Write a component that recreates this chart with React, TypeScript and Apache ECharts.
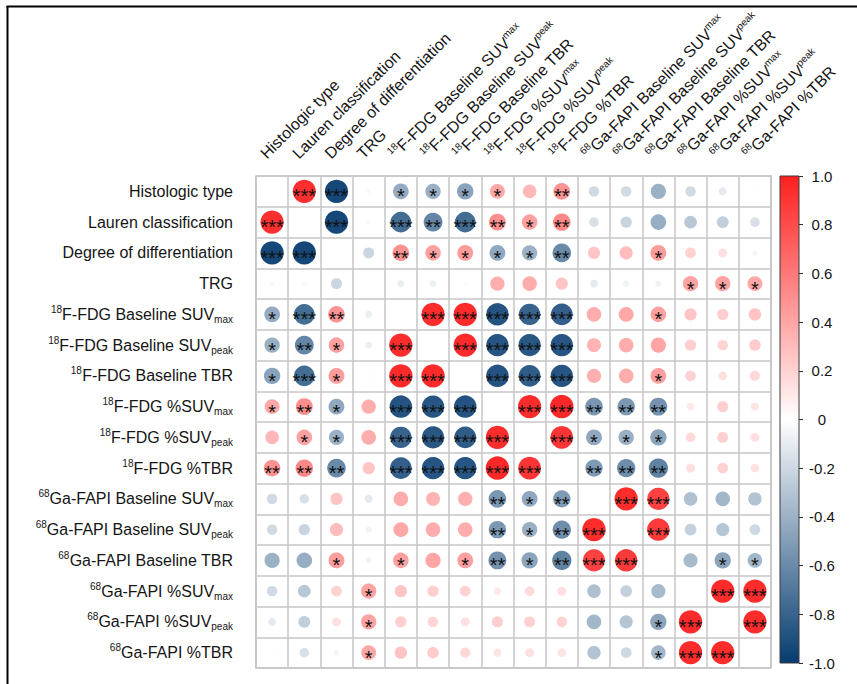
import React, { useEffect, useRef } from 'react';
import * as echarts from 'echarts';

const FONT = '"Liberation Sans", Arial, Helvetica, sans-serif';
const RED = '#FF1F1F';
const BLUE = '#063C70';
const INK = '#151515';

// Variable labels (rich markup: sup = isotope mass number, sub = SUV suffix)
const varLabels = [
  '{n|Histologic type}',
  '{n|Lauren classification}',
  '{n|Degree of differentiation}',
  '{n|TRG}',
  '{sup|18}{n|F-FDG Baseline SUV}{sub|max}',
  '{sup|18}{n|F-FDG Baseline SUV}{sub|peak}',
  '{sup|18}{n|F-FDG Baseline TBR}',
  '{sup|18}{n|F-FDG %SUV}{sub|max}',
  '{sup|18}{n|F-FDG %SUV}{sub|peak}',
  '{sup|18}{n|F-FDG %TBR}',
  '{sup|68}{n|Ga-FAPI Baseline SUV}{sub|max}',
  '{sup|68}{n|Ga-FAPI Baseline SUV}{sub|peak}',
  '{sup|68}{n|Ga-FAPI Baseline TBR}',
  '{sup|68}{n|Ga-FAPI %SUV}{sub|max}',
  '{sup|68}{n|Ga-FAPI %SUV}{sub|peak}',
  '{sup|68}{n|Ga-FAPI %TBR}',
];

// Lower triangle of the correlation matrix: row i holds r(i, 0..i-1)
const corrLower: number[][] = [
  [],
  [0.93],
  [-0.94, -0.94],
  [0.04, 0.04, -0.21],
  [-0.43, -0.75, 0.48, -0.085],
  [-0.41, -0.62, 0.42, -0.08, 0.94],
  [-0.47, -0.75, 0.44, 0.025, 0.95, 0.95],
  [0.39, 0.5, -0.44, 0.36, -0.88, -0.87, -0.88],
  [0.32, 0.42, -0.4, 0.37, -0.8, -0.86, -0.83, 0.94],
  [0.48, 0.53, -0.6, 0.26, -0.82, -0.87, -0.87, 0.96, 0.9],
  [-0.19, -0.16, 0.26, -0.11, 0.37, 0.34, 0.355, -0.54, -0.44, -0.52],
  [-0.19, -0.22, 0.3, -0.065, 0.39, 0.37, 0.37, -0.53, -0.41, -0.58, 0.94],
  [-0.4, -0.42, 0.44, -0.06, 0.42, 0.4, 0.43, -0.56, -0.46, -0.64, 0.85, 0.88],
  [-0.19, -0.28, 0.2, 0.41, 0.26, 0.22, 0.2, 0.1, 0.165, 0.145, -0.32, -0.24, -0.35],
  [-0.11, -0.25, 0.14, 0.41, 0.22, 0.19, 0.14, 0.215, 0.21, 0.2, -0.37, -0.3, -0.46, 0.95],
  [-0.02, -0.16, -0.05, 0.39, 0.27, 0.23, 0.18, 0.12, 0.14, 0.13, -0.31, -0.2, -0.37, 0.94, 0.94],
];

// Significance level (number of asterisks), same layout as corrLower
const starsLower: number[][] = [
  [],
  [3],
  [3, 3],
  [0, 0, 0],
  [1, 3, 2, 0],
  [1, 2, 1, 0, 3],
  [1, 3, 1, 0, 3, 3],
  [1, 2, 1, 0, 3, 3, 3],
  [0, 1, 1, 0, 3, 3, 3, 3],
  [2, 2, 2, 0, 3, 3, 3, 3, 3],
  [0, 0, 0, 0, 0, 0, 0, 2, 1, 2],
  [0, 0, 0, 0, 0, 0, 0, 2, 1, 2, 3],
  [0, 0, 1, 0, 1, 0, 1, 2, 1, 2, 3, 3],
  [0, 0, 0, 1, 0, 0, 0, 0, 0, 0, 0, 0, 0],
  [0, 0, 0, 1, 0, 0, 0, 0, 0, 0, 0, 0, 1, 3],
  [0, 0, 0, 1, 0, 0, 0, 0, 0, 0, 0, 0, 1, 3, 3],
];

const scaleTicks = { min: -1, max: 1, interval: 0.2 };

const GRID = { left: 256, top: 176, width: 515, height: 492 };

function lookup(tri: number[][], i: number, j: number) {
  return i > j ? tri[i][j] : tri[j][i];
}

export default function App() {
  const ref = useRef<HTMLDivElement>(null);

  useEffect(() => {
    if (!ref.current) return;
    const chart = echarts.init(ref.current, null, { renderer: 'svg' });
    const n = varLabels.length;
    const cellH = GRID.height / n;
    const sizeScale = 0.78 * cellH;

    const points: any[] = [];
    for (let i = 0; i < n; i++) {
      for (let j = 0; j < n; j++) {
        if (i === j) continue;
        points.push([j, i, lookup(corrLower, i, j), lookup(starsLower, i, j)]);
      }
    }

    const rowRich = {
      n: { fontSize: 16, lineHeight: 20, verticalAlign: 'middle', color: INK, fontFamily: FONT },
      sup: { fontSize: 10, lineHeight: 13, verticalAlign: 'top', color: INK, fontFamily: FONT },
      sub: { fontSize: 10, lineHeight: 12, verticalAlign: 'bottom', color: INK, fontFamily: FONT },
    };
    // zrender text styles for the rotated column headers
    const colRich = {
      n: { fontSize: 16, lineHeight: 20, verticalAlign: 'middle', fill: INK, fontFamily: FONT },
      sup: { fontSize: 10, lineHeight: 13, verticalAlign: 'top', fill: INK, fontFamily: FONT },
      sub: { fontSize: 10, lineHeight: 13, verticalAlign: 'top', fill: INK, fontFamily: FONT },
    };

    const gridLine = { show: true, interval: 0, lineStyle: { color: '#c6c6c6', width: 1.5 } };

    chart.setOption({
      animation: false,
      backgroundColor: '#ffffff',
      textStyle: { fontFamily: FONT },
      graphic: [
        { type: 'line', shape: { x1: 6.5, y1: 6.5, x2: 857, y2: 6.5 }, style: { stroke: '#000', lineWidth: 2 } },
        { type: 'line', shape: { x1: 7.5, y1: 6, x2: 7.5, y2: 684 }, style: { stroke: '#000', lineWidth: 2 } },
      ],
      grid: [
        { ...GRID, show: true, borderColor: '#c6c6c6', borderWidth: 1.5, backgroundColor: 'transparent' },
        { left: 780, top: 176, width: 19, height: 487 },
      ],
      xAxis: [
        {
          type: 'category',
          gridIndex: 0,
          position: 'top',
          data: varLabels,
          axisLine: { show: false },
          axisTick: { show: false },
          splitLine: gridLine,
          axisLabel: { show: false },
        },
        { type: 'category', gridIndex: 1, data: [''], show: false },
      ],
      yAxis: [
        {
          type: 'category',
          gridIndex: 0,
          inverse: true,
          data: varLabels,
          axisLine: { show: false },
          axisTick: { show: false },
          splitLine: gridLine,
          axisLabel: { interval: 0, margin: 23, rich: rowRich },
        },
        {
          type: 'value',
          gridIndex: 1,
          position: 'right',
          min: scaleTicks.min,
          max: scaleTicks.max,
          interval: scaleTicks.interval,
          axisLine: { show: false },
          splitLine: { show: false },
          axisTick: { show: true, inside: false, length: 4, lineStyle: { color: '#333', width: 1 } },
          axisLabel: {
            align: 'center',
            margin: 23,
            fontSize: 15,
            color: INK,
            fontFamily: FONT,
            formatter: (v: number) => (Math.abs(v) < 1e-9 ? '0' : v.toFixed(1)),
          },
        },
      ],
      visualMap: {
        show: false,
        type: 'continuous',
        min: scaleTicks.min,
        max: scaleTicks.max,
        dimension: 2,
        seriesIndex: 0,
        inRange: { color: [BLUE, '#ffffff', RED] },
      },
      series: [
        {
          type: 'scatter',
          xAxisIndex: 0,
          yAxisIndex: 0,
          data: points,
          symbol: 'circle',
          symbolSize: (v: number[]) => sizeScale * Math.sqrt(Math.abs(v[2])),
          itemStyle: { opacity: 1 },
          emphasis: { disabled: true },
          label: {
            show: true,
            position: 'inside',
            formatter: (p: any) => '*'.repeat(p.value[3]),
            fontSize: 20,
            color: '#111',
            fontFamily: FONT,
            offset: [0, 5],
          },
          z: 3,
        },
        {
          // colour scale bar
          type: 'custom',
          xAxisIndex: 1,
          yAxisIndex: 1,
          silent: true,
          data: [[0, scaleTicks.min, scaleTicks.max]],
          renderItem: (_params: any, api: any) => {
            const top = api.coord([api.value(0), api.value(2)]);
            const bottom = api.coord([api.value(0), api.value(1)]);
            const w = api.size([1, 0])[0];
            return {
              type: 'rect',
              shape: { x: top[0] - w / 2, y: top[1], width: w, height: bottom[1] - top[1] },
              style: {
                fill: new echarts.graphic.LinearGradient(0, 0, 0, 1, [
                  { offset: 0, color: RED },
                  { offset: 0.5, color: '#ffffff' },
                  { offset: 1, color: BLUE },
                ]),
                stroke: '#3a3a3a',
                lineWidth: 1,
              },
            };
          },
        },
        {
          // rotated column headers above the matrix
          type: 'custom',
          xAxisIndex: 0,
          yAxisIndex: 0,
          silent: true,
          clip: false,
          data: varLabels.map((_, j) => [j, 0]),
          renderItem: (params: any, api: any) => {
            const c = api.coord([api.value(0), api.value(1)]);
            const h = api.size([0, 1])[1];
            return {
              type: 'text',
              x: c[0] - 2,
              y: c[1] - h / 2 - 13,
              rotation: Math.PI / 4,
              style: {
                text: varLabels[params.dataIndex],
                rich: colRich,
                align: 'left',
                verticalAlign: 'bottom',
                fill: INK,
                fontFamily: FONT,
                fontSize: 16,
              },
            };
          },
        },
      ],
    });

    return () => chart.dispose();
  }, []);

  return (
    <div
      ref={ref}
      style={{ position: 'fixed', left: 0, top: 0, width: 857, height: 684, background: '#fff' }}
    />
  );
}
